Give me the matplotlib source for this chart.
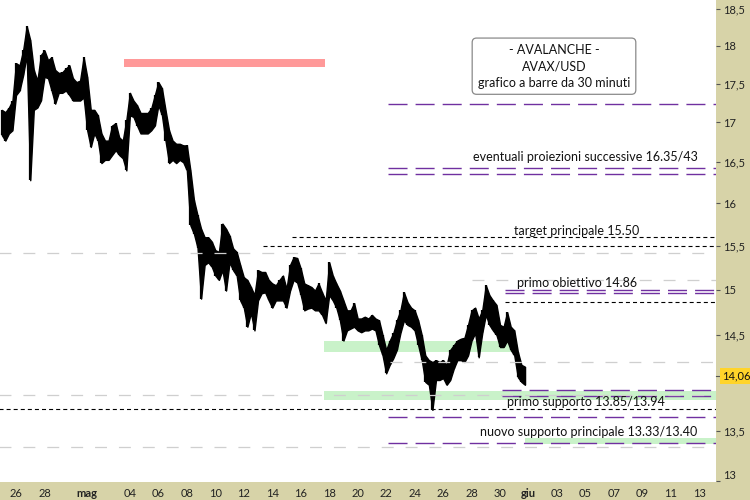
import numpy as np
import matplotlib
matplotlib.use('Agg')
import matplotlib.pyplot as plt
from matplotlib.patches import Rectangle
from matplotlib.transforms import blended_transform_factory, ScaledTranslation
from matplotlib.ticker import FixedLocator, FixedFormatter, NullLocator

plt.rcParams['font.family'] = ['Lato', 'DejaVu Sans']
plt.rcParams['lines.scale_dashes'] = False

# ---------------- data ----------------
# time axis: days since 26 Apr 00:00; bars read at 6-hour steps
bar_start = -1.0
bar_step = 0.25
highs = [17.16, 17.13, 17.19, 17.28, 17.77, 17.74, 17.94, 18.27, 18.08, 17.68,
         17.54, 17.88, 17.94, 17.81, 17.85, 17.68, 17.64, 17.65, 17.70, 17.74,
         17.57, 17.52, 17.54, 17.85, 17.59, 17.16, 17.16, 17.09, 16.86, 16.77,
         16.77, 16.96, 16.99, 16.81, 16.77, 17.03, 17.38, 17.28, 17.22, 17.12,
         17.12, 17.12, 17.18, 17.35, 17.52, 17.44, 17.16, 16.90, 16.77, 16.73,
         16.73, 16.71, 16.71, 16.40, 16.04, 15.86, 15.70, 15.60, 15.60, 15.55,
         15.45, 15.43, 15.76, 15.70, 15.62, 15.47, 15.43, 15.28, 15.14, 15.11,
         15.03, 14.94, 15.22, 15.20, 15.20, 15.11, 15.07, 15.05, 15.11, 15.16,
         15.01, 15.28, 15.37, 15.36, 15.24, 15.07, 15.05, 15.03, 14.99, 15.07,
         14.97, 14.88, 15.31, 15.16, 15.07, 14.99, 14.88, 14.77, 14.77, 14.85,
         14.68, 14.68, 14.70, 14.68, 14.72, 14.68, 14.66, 14.50, 14.34, 14.44,
         14.52, 14.66, 14.77, 14.97, 14.86, 14.80, 14.77, 14.66, 14.50, 14.28,
         14.23, 14.21, 14.23, 14.21, 14.23, 14.18, 14.34, 14.39, 14.44, 14.46,
         14.47, 14.61, 14.77, 14.80, 14.68, 14.77, 15.05, 14.94, 14.88, 14.83,
         14.61, 14.59, 14.75, 14.59, 14.55, 14.32, 14.18, 14.16]
lows = [16.84, 16.77, 16.86, 16.90, 17.35, 17.41, 17.61, 17.88, 16.28, 17.16,
        17.19, 17.28, 17.59, 17.57, 17.41, 17.24, 17.38, 17.38, 17.41, 17.35,
        17.28, 17.28, 17.28, 17.32, 16.90, 16.69, 16.86, 16.77, 16.49, 16.53,
        16.53, 16.59, 16.65, 16.59, 16.55, 16.40, 17.09, 17.07, 16.96, 16.86,
        16.86, 16.86, 16.90, 16.96, 17.22, 17.09, 16.77, 16.49, 16.53, 16.49,
        16.53, 16.50, 16.40, 15.74, 15.64, 15.48, 14.90, 15.28, 15.31, 15.26,
        15.16, 15.11, 15.22, 14.99, 15.31, 15.22, 15.16, 14.88, 14.80, 14.59,
        14.74, 14.55, 14.88, 14.96, 14.97, 14.88, 14.80, 14.88, 14.88, 14.88,
        14.80, 14.99, 15.11, 15.08, 14.94, 14.77, 14.79, 14.80, 14.77, 14.77,
        14.72, 14.63, 14.94, 14.88, 14.80, 14.66, 14.44, 14.55, 14.57, 14.59,
        14.55, 14.53, 14.55, 14.55, 14.57, 14.55, 14.39, 14.28, 14.09, 14.18,
        14.25, 14.34, 14.52, 14.66, 14.61, 14.59, 14.55, 14.39, 14.23, 14.00,
        13.97, 13.71, 14.02, 14.02, 14.04, 13.97, 14.02, 14.14, 14.23, 14.23,
        14.21, 14.28, 14.44, 14.52, 14.26, 14.52, 14.72, 14.61, 14.55, 14.50,
        14.37, 14.37, 14.44, 14.34, 14.28, 14.05, 14.00, 13.97]
last_price = 14.06

x_ticks = [0, 2, 5, 8, 10, 12, 14, 16, 18, 20, 22, 24, 26, 28, 30, 32, 34,
           36, 38, 40, 42, 44, 46, 48]
x_labels = ['26', '28', 'mag', '04', '06', '08', '10', '12', '14', '16', '18',
            '20', '22', '24', '26', '28', '30', 'giu', '03', '05', '07', '09',
            '11', '13']
y_ticks = [13, 13.5, 14.5, 15, 15.5, 16, 16.5, 17, 17.5, 18, 18.5]
y_labels = ['13', '13,5', '14,5', '15', '15,5', '16', '16,5', '17', '17,5',
            '18', '18,5']

# horizontal levels (price) and the day where each starts
purple_levels = [17.23, 16.43, 16.35, 15.00, 14.96, 13.92, 13.85, 13.64, 13.37]
purple_starts = [26.13, 26.13, 26.13, 34.35, 34.35, 34.14, 34.14, 26.13, 26.13]
black_levels = [15.60, 15.50, 14.86, 13.72]
black_starts = [19.39, 17.35, 34.35, -1.2]
gray_levels = [15.42, 15.11, 14.21, 13.86, 13.33]
gray_starts = [-1.2, 32.03, 26.27, -1.2, -1.2]
green_lo = [14.32, 13.81, 13.36]
green_hi = [14.44, 13.91, 13.42]
green_start = [21.64, 21.64, 35.76]
green_end = [35.10, 49.2, 49.2]
pink_lo, pink_hi = 17.72, 17.83
pink_start, pink_end = 7.59, 21.71

labels_txt = ['eventuali proiezioni successive 16.35/43', 'target principale 15.50',
              'primo obiettivo 14.86', 'primo supporto 13.85/13.94',
              'nuovo supporto principale 13.33/13.40']
labels_x = [32.10, 34.98, 35.20, 34.49, 32.60]
labels_y = [16.57, 15.67, 15.07, 13.79, 13.49]

# ---------------- figure ----------------
W, H = 750, 500
fig = plt.figure(figsize=(7.5, 5), dpi=100)
tan = '#d7d3a8'
fig.add_artist(Rectangle((716 / W, 0), 34 / W, 1, transform=fig.transFigure,
                         facecolor=tan, edgecolor='none', zorder=-5))
fig.add_artist(Rectangle((0, 0), 1, 18 / H, transform=fig.transFigure,
                         facecolor=tan, edgecolor='none', zorder=-5))
ax = fig.add_axes([0, 18 / H, 716 / W, 482 / H])
ax.set_facecolor('white')
XMIN, XMAX = -1.124, 49.17
ax.set_xlim(XMIN, XMAX)
ax.set_yscale('log')
ax.set_ylim(12.99, 18.63)

t = bar_start + bar_step * np.arange(len(highs))
ax.fill_between(t, lows, highs, color='black', linewidth=1.0,
                edgecolor='black', zorder=3)
ax.vlines(t, lows, highs, color='black', linewidth=1.6, zorder=3)

for lo, hi, s, e in zip(green_lo, green_hi, green_start, green_end):
    ax.fill_between([s, e], lo, hi, color='#c9f2c9', linewidth=0, zorder=1)
ax.fill_between([pink_start, pink_end], pink_lo, pink_hi, color='#ff9999',
                linewidth=0, zorder=1)

for lv, s in zip(gray_levels, gray_starts):
    ax.hlines(lv, s, XMAX + 1, color='#cfcfcf', linewidth=0.9,
              linestyles=[(0, (8.6, 8.6))], zorder=4)
for lv, s in zip(purple_levels, purple_starts):
    ax.hlines(lv, s, XMAX + 1, color='#7030a0', linewidth=1.0,
              linestyles=[(0, (13.7, 5.8))], zorder=2)
for lv, s in zip(black_levels, black_starts):
    ax.hlines(lv, s, XMAX + 1, color='black', linewidth=0.8,
              linestyles=[(0, (2.9, 2.2))], zorder=2.5)

for txt, x, y in zip(labels_txt, labels_x, labels_y):
    ax.text(x, y, txt, ha='left', va='center', fontsize=9, color='#111111',
            zorder=5)

ax.text(37.79, 17.73, '- AVALANCHE -\nAVAX/USD\ngrafico a barre da 30 minuti',
        ha='center', va='center', fontsize=9, linespacing=1.45, color='#111111',
        zorder=6,
        bbox=dict(boxstyle='round,pad=0.45,rounding_size=0.35', fc='white',
                  ec='#8a8a8a', lw=0.9))

# axes styling
for sp in ax.spines.values():
    sp.set_visible(False)
ax.xaxis.set_major_locator(FixedLocator(x_ticks))
ax.xaxis.set_major_formatter(FixedFormatter(x_labels))
ax.xaxis.set_minor_locator(NullLocator())
ax.yaxis.set_major_locator(FixedLocator(y_ticks))
ax.yaxis.set_major_formatter(FixedFormatter(y_labels))
ax.yaxis.set_minor_locator(NullLocator())
ax.yaxis.tick_right()
ax.tick_params(axis='x', length=0, pad=4, labelsize=8, labelcolor='#222222')
ax.tick_params(axis='y', length=3, width=0.8, color='#555555', pad=2,
               labelsize=8, labelcolor='#222222')
fig.canvas.draw()
for lbl in ax.get_xticklabels():
    if lbl.get_text() in ('mag', 'giu'):
        lbl.set_fontweight('bold')
for tick in ax.yaxis.get_major_ticks():
    if abs(tick.get_loc() - 13) < 1e-6:
        lab = tick.label2
        lab.set_transform(lab.get_transform() +
                          ScaledTranslation(0, 6 / 100, fig.dpi_scale_trans))

# last price marker
tr = blended_transform_factory(ax.transAxes, ax.transData)
ax.plot([1.0, 1.0 + 4 / 716], [last_price, last_price], transform=tr,
        color='#555555', lw=0.8, clip_on=False)
ax.text(1.0 + 6 / 716, last_price, '14,06', transform=tr, ha='left',
        va='center', fontsize=8, color='#111111', clip_on=False,
        bbox=dict(boxstyle='square,pad=0.2', fc='#ffd42a', ec='none'))

fig.savefig('out.png', dpi=100)
